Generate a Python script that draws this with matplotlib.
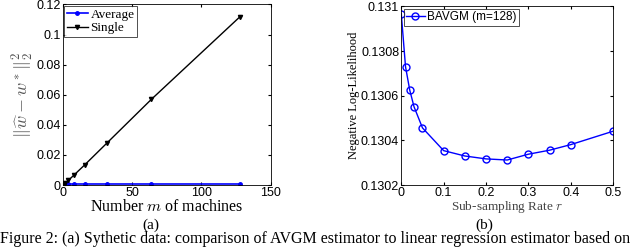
import matplotlib
matplotlib.use("Agg")
import matplotlib.pyplot as plt

# ---------------- DATA ----------------
machines = [1, 2, 4, 8, 16, 32, 64, 128]
err_average = [0.0004, 0.0004, 0.0004, 0.0004, 0.0004, 0.0004, 0.0004, 0.0004]
err_single = [0.0008, 0.0015, 0.003, 0.0065, 0.0135, 0.028, 0.057, 0.112]

rates = [0.0, 0.01, 0.02, 0.03, 0.05, 0.1, 0.15, 0.2, 0.25, 0.3, 0.35, 0.4, 0.5]
nll_bavgm = [0.130967, 0.13073, 0.130625, 0.130551, 0.130456, 0.130354, 0.13033,
             0.130317, 0.130312, 0.130338, 0.130356, 0.130381, 0.130441]

left_yticks = [0, 0.02, 0.04, 0.06, 0.08, 0.1, 0.12]
left_yticklabels = ["0", "0.02", "0.04", "0.06", "0.08", "0.1", "0.12"]
right_yticks = [0.1302, 0.1304, 0.1306, 0.1308, 0.131]
right_yticklabels = ["0.1302", "0.1304", "0.1306", "0.1308", "0.131"]

SANS = "Liberation Sans"
SERIF = "Liberation Serif"
plt.rcParams["font.family"] = SANS
plt.rcParams["mathtext.fontset"] = "cm"
plt.rcParams["xtick.direction"] = "in"
plt.rcParams["ytick.direction"] = "in"
plt.rcParams["xtick.major.size"] = 2.5
plt.rcParams["ytick.major.size"] = 2.5
plt.rcParams["axes.linewidth"] = 0.6

fig = plt.figure(figsize=(6.4, 2.48), dpi=100)

# ---------------- (a) ----------------
ax1 = fig.add_axes([0.098, 0.254, 0.325, 0.728])
ax1.plot(machines, err_average, color="#0000ff", marker="o", markersize=2.5,
         linewidth=1.2, label="Average")
ax1.plot(machines, err_single, color="black", marker="v", markersize=3,
         linewidth=1.0, label="Single")
ax1.set_xlim(0, 150)
ax1.set_ylim(0, 0.12)
ax1.set_xticks([0, 50, 100, 150])
ax1.set_yticks(left_yticks)
ax1.set_yticklabels(left_yticklabels)
ax1.tick_params(labelsize=9, pad=1.5, top=True, right=True)
ax1.set_xlabel(r"Number $m$ of machines", family=SERIF, fontsize=11.5, labelpad=0)
ax1.set_ylabel(r"$\|\widehat{w}-w^*\|_2^2$", fontsize=13, labelpad=0, color="#555555")
leg1 = ax1.legend(loc="upper left", prop={"family": SERIF, "size": 9.5},
                  fancybox=False, edgecolor="black", borderpad=0.2,
                  handlelength=1.6, handletextpad=0.2, labelspacing=0.1,
                  borderaxespad=0.1)
leg1.get_frame().set_linewidth(0.6)
fig.text(0.236, 0.093, "(a)", family=SERIF, fontsize=11, ha="center", va="center")

# ---------------- (b) ----------------
ax2 = fig.add_axes([0.627, 0.254, 0.331, 0.72])
ax2.plot(rates, nll_bavgm, color="#0000ff", marker="o", markersize=5,
         markerfacecolor="none", markeredgewidth=1.0, linewidth=1.0,
         label="BAVGM (m=128)")
ax2.set_xlim(0, 0.5)
ax2.set_ylim(0.1302, 0.131)
ax2.set_xticks([0, 0.1, 0.2, 0.3, 0.4, 0.5])
ax2.set_xticklabels(["0", "0.1", "0.2", "0.3", "0.4", "0.5"])
ax2.set_yticks(right_yticks)
ax2.set_yticklabels(right_yticklabels)
ax2.tick_params(labelsize=9, pad=1.5, top=True, right=True)
ax2.set_xlabel(r"Sub-sampling Rate $r$", family=SERIF, fontsize=9.5, labelpad=0,
               color="#444444")
ax2.set_ylabel("Negative Log-Likelihood", family=SERIF, fontsize=9, labelpad=1)
leg2 = ax2.legend(loc="upper left", prop={"family": SANS, "size": 8.5},
                  fancybox=False, edgecolor="black", borderpad=0.2,
                  handlelength=1.6, handletextpad=0.2, borderaxespad=0.2)
leg2.get_frame().set_linewidth(0.6)
fig.text(0.756, 0.093, "(b)", family=SERIF, fontsize=11, ha="center", va="center")

# ---------------- CAPTION ----------------
fig.text(0.0, 0.004, "Figure 2: (a) Sythetic data: comparison of AVGM estimator "
         "to linear regression estimator based on",
         family=SERIF, fontsize=11.5, ha="left", va="bottom")

fig.savefig("out.png", dpi=100)
